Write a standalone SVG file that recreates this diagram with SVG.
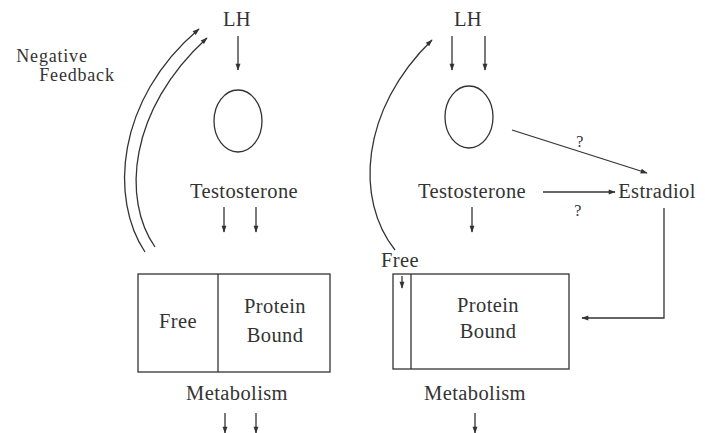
<svg xmlns="http://www.w3.org/2000/svg" width="705" height="433" viewBox="0 0 705 433">
<style>
text{font-family:"Liberation Serif","Times New Roman",serif;font-size:20.5px;letter-spacing:0.4px;fill:#333;text-anchor:middle}
.s{font-size:18px;letter-spacing:0.8px}
.l{fill:none;stroke:#333;stroke-width:1.3}
.a{fill:none;stroke:#333;stroke-width:1.3;marker-end:url(#ah)}
</style>
<defs>
<marker id="ah" viewBox="0 0 10 10" refX="9" refY="5" markerWidth="8" markerHeight="7" markerUnits="userSpaceOnUse" orient="auto">
<path d="M0,1.5 L10,5 L0,8.5 Z" fill="#333"/>
</marker>
</defs>
<rect width="705" height="433" fill="#fff"/>
<g id="left">
<g id="lh-left"><text x="237" y="26">LH</text></g>
<g id="cell-left"><ellipse class="l" cx="238" cy="121" rx="24" ry="31"/></g>
<g id="testosterone-left"><text x="244" y="198">Testosterone</text></g>
<g id="feedback-label"><text class="s" x="52" y="62">Negative</text><text class="s" x="77" y="81">Feedback</text></g>
<g id="box-left">
<rect class="l" x="138" y="274" width="192" height="98"/>
<line class="l" x1="218" y1="274" x2="218" y2="372"/>
<text x="178" y="328">Free</text>
<text x="275" y="313">Protein</text>
<text x="275" y="342">Bound</text>
</g>
<g id="metabolism-left"><text x="237" y="400">Metabolism</text></g>
</g>
<g id="right">
<g id="lh-right"><text x="468" y="26">LH</text></g>
<g id="cell-right"><ellipse class="l" cx="469" cy="117" rx="24" ry="31"/></g>
<g id="testosterone-right"><text x="472" y="198">Testosterone</text></g>
<g id="estradiol"><text x="657" y="198">Estradiol</text></g>
<g id="box-right">
<rect class="l" x="393" y="274" width="176" height="95"/>
<line class="l" x1="411" y1="274" x2="411" y2="369"/>
<text x="400" y="267">Free</text>
<text x="488" y="312">Protein</text>
<text x="488" y="338">Bound</text>
</g>
<g id="metabolism-right"><text x="475" y="400">Metabolism</text></g>
</g>
<g id="connectors">
<line class="a" x1="238" y1="36" x2="238" y2="70"/>
<line class="a" x1="224" y1="207" x2="224" y2="232"/>
<line class="a" x1="256" y1="207" x2="256" y2="232"/>
<path class="a" d="M145,252 C110,200 115,100 199,29"/>
<path class="a" d="M155,247 C122,200 128,110 207,38"/>
<line class="a" x1="225" y1="413" x2="225" y2="433"/>
<line class="a" x1="256" y1="413" x2="256" y2="433"/>
<line class="a" x1="452" y1="36" x2="452" y2="70"/>
<line class="a" x1="485" y1="36" x2="485" y2="70"/>
<line class="a" x1="512" y1="130" x2="647" y2="173"/>
<text x="580" y="147" style="font-size:16px">?</text>
<line class="a" x1="543" y1="192" x2="615" y2="192"/>
<text x="578" y="216" style="font-size:16px">?</text>
<line class="a" x1="472" y1="207" x2="472" y2="232"/>
<path class="a" d="M395,250 C355,200 360,110 432,40"/>
<path class="a" d="M664,208 L664,318 L582,318"/>
<line class="a" x1="402" y1="276" x2="402" y2="288"/>
<line class="a" x1="475" y1="413" x2="475" y2="433"/>
</g>
</svg>
